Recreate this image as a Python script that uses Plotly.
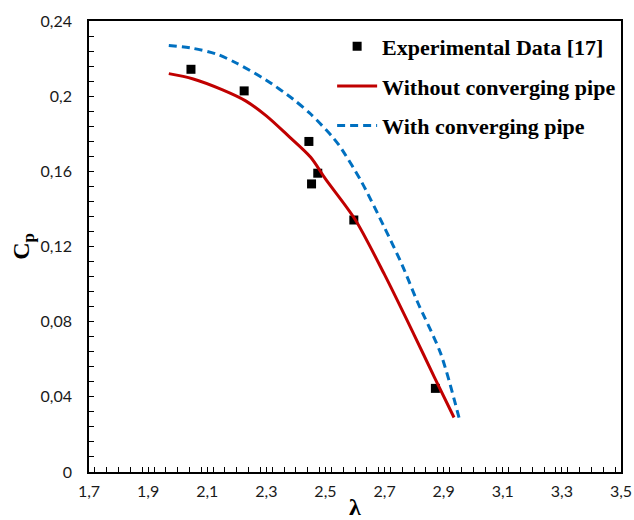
import plotly.graph_objects as go

# Experimental data [17]
exp_x = [2.045, 2.225, 2.444, 2.453, 2.474, 2.596, 2.872]
exp_y = [0.2143, 0.2028, 0.1759, 0.1533, 0.159, 0.1341, 0.0445]

# Without converging pipe
wo_x = [1.97, 2.05, 2.15, 2.23, 2.30, 2.37, 2.45, 2.50, 2.60, 2.70, 2.80, 2.87, 2.935]
wo_y = [0.212, 0.2093, 0.2035, 0.1975, 0.1895, 0.1795, 0.1675, 0.156, 0.1345, 0.105, 0.073, 0.050, 0.029]

# With converging pipe
w_x = [1.97, 2.05, 2.13, 2.20, 2.30, 2.39, 2.45, 2.52, 2.55, 2.62, 2.70, 2.76, 2.81, 2.89, 2.955]
w_y = [0.227, 0.2255, 0.2225, 0.2175, 0.2085, 0.1985, 0.1905, 0.179, 0.173, 0.155, 0.130, 0.110, 0.091, 0.063, 0.027]

fig = go.Figure()
fig.add_trace(go.Scatter(x=exp_x, y=exp_y, mode="markers", name="Experimental Data [17]",
                         marker=dict(symbol="square", size=9, color="black"), legendgroup="a"))
fig.add_trace(go.Scatter(x=wo_x, y=wo_y, mode="lines", name="Without converging pipe",
                         line=dict(color="#C00000", width=3, shape="spline", smoothing=0.8), legendgroup="b"))
fig.add_trace(go.Scatter(x=w_x, y=w_y, mode="lines", name="With converging pipe",
                         line=dict(color="#0070C0", width=3, dash="8px,5px", shape="spline", smoothing=0.8),
                         legendgroup="c"))

axis_common = dict(showline=True, linecolor="black", linewidth=1.5, mirror=True, automargin=False,
                   ticks="inside", ticklen=5, tickcolor="black", showgrid=False, zeroline=False,
                   tickfont=dict(family="Lato, Open Sans, sans-serif", size=16, color="#1a1a1a"))

fig.update_layout(
    width=634, height=520,
    margin=dict(l=89, r=13, t=21, b=48),
    paper_bgcolor="white", plot_bgcolor="white",
    separators=",.",
    showlegend=True,
    legend=dict(x=0.457, y=0.99, xanchor="left", yanchor="top", bgcolor="rgba(0,0,0,0)",
                font=dict(family="Liberation Serif, Times New Roman, serif", size=22, color="black",
                          weight="bold"),
                tracegroupgap=8, itemwidth=40),
    xaxis=dict(range=[1.7, 3.5], dtick=0.2, tick0=1.7,
               minor=dict(dtick=0.04, ticks="inside", ticklen=5, tickcolor="black"),
               ticklabelstandoff=4,
               title=dict(text="<b>λ</b>", font=dict(family="Liberation Serif, serif", size=24, color="black"),
                          standoff=0),
               **axis_common),
    yaxis=dict(range=[0, 0.24], dtick=0.04, tick0=0,
               minor=dict(dtick=0.008, ticks="inside", ticklen=5, tickcolor="black"),
               ticklabelstandoff=12,
               title=dict(text="<b>C<sub>p</sub></b>", font=dict(family="Liberation Serif, serif", size=24, color="black"),
                          standoff=4),
               **axis_common),
)

fig.write_html("out.html", config={"displayModeBar": False},
               post_script="document.body.style.margin='0px';document.body.style.overflow='hidden';")
